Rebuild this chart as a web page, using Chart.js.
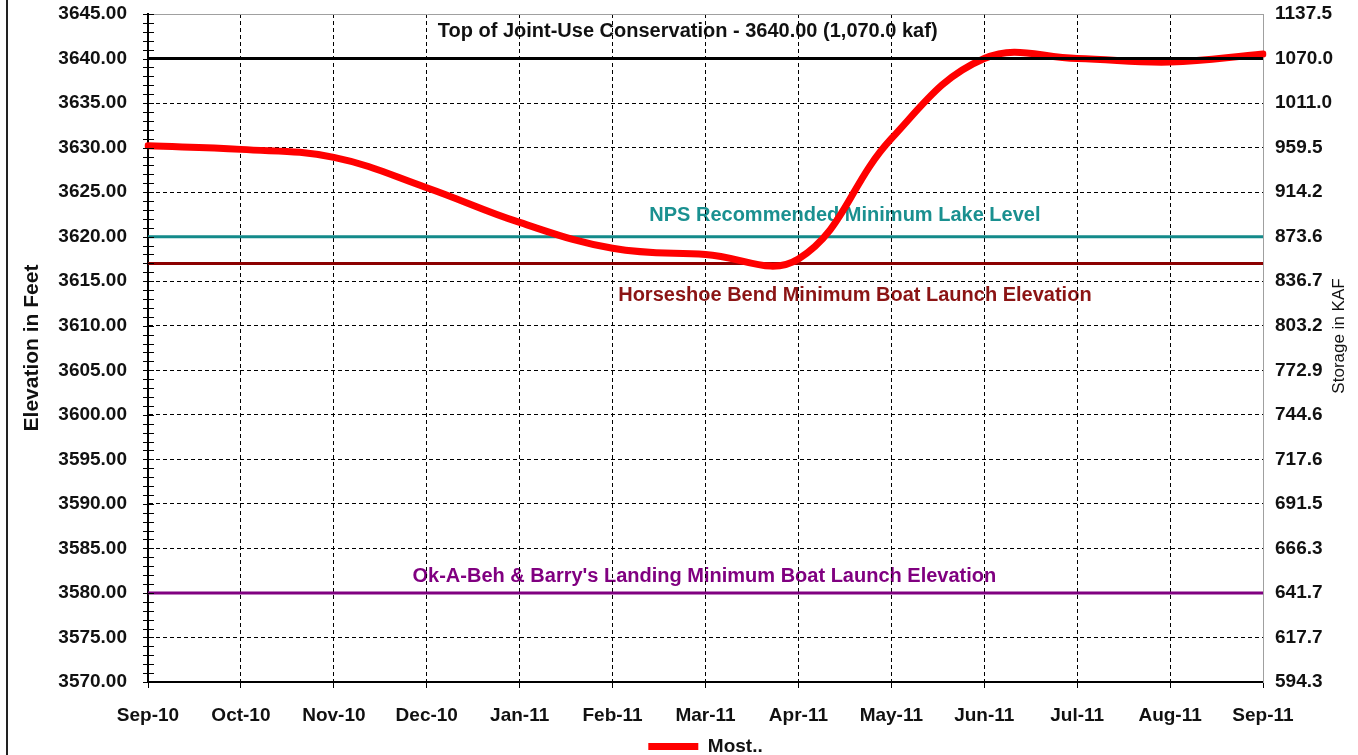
<!DOCTYPE html>
<html>
<head>
<meta charset="utf-8">
<script src="https://cdn.jsdelivr.net/npm/chart.js@4.4.0/dist/chart.umd.min.js"></script>
<style>
  html, body { margin: 0; padding: 0; background: #fff; overflow: hidden; }
  #wrap { position: relative; width: 1358px; height: 755px; background: #fff; }
  #frame { position: absolute; left: 6px; top: 0; width: 2px; height: 755px; background: #222; }
</style>
</head>
<body>
<div id="wrap"><div id="frame"></div><canvas id="elevation"></canvas></div>
<script>
// monthly categories
const months = ['Sep-10', 'Oct-10', 'Nov-10', 'Dec-10', 'Jan-11', 'Feb-11', 'Mar-11',
  'Apr-11', 'May-11', 'Jun-11', 'Jul-11', 'Aug-11', 'Sep-11'];

// most probable end-of-month elevation (ft)
const mostElev = [3630.2, 3629.8, 3628.9, 3625.5, 3621.6, 3618.7, 3618.0,
  3617.5, 3631.0, 3640.0, 3640.0, 3639.6, 3640.5];

// storage (kaf) shown against each 5 ft elevation tick, 3570 .. 3645
const storageTicks = ['594.3', '617.7', '641.7', '666.3', '691.5', '717.6', '744.6', '772.9',
  '803.2', '836.7', '873.6', '914.2', '959.5', '1011.0', '1070.0', '1137.5'];

// reference levels (ft)
const topConservation = 3640;
const npsMinimum = 3620;
const horseshoeMinimum = 3617;
const okAbehMinimum = 3580;

const elevMin = 3570, elevMax = 3645;
const FONT = "'Liberation Sans', Arial, sans-serif";
const flat = v => months.map(() => v);

const refLabels = [
  { text: 'Top of Joint-Use Conservation - 3640.00 (1,070.0 kaf)', level: topConservation, color: '#111', at: 0.484, dy: -27 },
  { text: 'NPS Recommended Minimum Lake Level', level: npsMinimum, color: '#1a9090', at: 0.625, dy: -21 },
  { text: 'Horseshoe Bend Minimum Boat Launch Elevation', level: horseshoeMinimum, color: '#8b1414', at: 0.634, dy: 32 },
  { text: "Ok-A-Beh & Barry's Landing Minimum Boat Launch Elevation", level: okAbehMinimum, color: '#800080', at: 0.499, dy: -16 }
];

// text under the grid, like the original
const refLabelPlugin = {
  id: 'refLabels',
  beforeDraw(chart) {
    const { ctx, chartArea: a, scales: { y } } = chart;
    ctx.save();
    ctx.font = 'bold 20px ' + FONT;
    ctx.textAlign = 'center';
    ctx.textBaseline = 'middle';
    refLabels.forEach(l => {
      ctx.fillStyle = l.color;
      ctx.fillText(l.text, a.left + a.width * l.at, y.getPixelForValue(l.level) + l.dy);
    });
    ctx.restore();
  }
};

// minor ticks crossing the left axis + right axis title (reads bottom to top)
const axisExtras = {
  id: 'axisExtras',
  afterDraw(chart) {
    const { ctx, chartArea: a, scales: { y } } = chart;
    ctx.save();
    ctx.strokeStyle = '#000';
    ctx.lineWidth = 1;
    ctx.beginPath();
    for (let v = elevMin; v <= elevMax; v++) {
      const py = Math.round(y.getPixelForValue(v)) + 0.5;
      ctx.moveTo(a.left - 5, py);
      ctx.lineTo(a.left + 6, py);
    }
    ctx.stroke();

    ctx.translate(1339, (a.top + a.bottom) / 2 - 12);
    ctx.rotate(-Math.PI / 2);
    ctx.font = '17px ' + FONT;
    ctx.fillStyle = '#111';
    ctx.textAlign = 'center';
    ctx.textBaseline = 'middle';
    ctx.fillText('Storage in KAF', 0, 0);
    ctx.restore();
  }
};

const lineSet = (label, data, color, width) => ({
  label, data, borderColor: color, backgroundColor: color, borderWidth: width,
  pointRadius: 0, tension: 0, yAxisID: 'y'
});

const noSidePad = s => { s.paddingTop = 0; s.paddingBottom = 0; };

new Chart('elevation', {
  type: 'line',
  data: {
    labels: months,
    datasets: [
      lineSet('Top of Joint-Use Conservation', flat(topConservation), '#000', 3),
      {
        label: 'Most..', data: mostElev, borderColor: '#ff0000', backgroundColor: '#ff0000',
        borderWidth: 7, pointRadius: 0, tension: 0.4, borderCapStyle: 'round', yAxisID: 'y'
      },
      lineSet('NPS Recommended Minimum', flat(npsMinimum), '#138a8a', 3),
      lineSet('Horseshoe Bend Minimum', flat(horseshoeMinimum), '#8b0000', 3),
      lineSet('Ok-A-Beh Minimum', flat(okAbehMinimum), '#800080', 3)
    ]
  },
  options: {
    responsive: true,
    maintainAspectRatio: false,
    animation: false,
    layout: { padding: { left: 20, top: 14, right: 0, bottom: -11 } },
    scales: {
      x: {
        ticks: { color: '#111', font: { family: FONT, size: 19, weight: 'bold' }, padding: 16, maxRotation: 0, autoSkip: false },
        grid: {
          color: c => c.index === months.length - 1 ? '#a0a0a0' : '#000',
          lineWidth: 1, tickLength: 6, tickColor: '#000', tickBorderDash: [], offset: false
        },
        border: { color: '#000', width: 2, dash: c => (c.index === months.length - 1 ? [] : [4, 3]) },
        afterFit: s => { s.height = 55; s.paddingLeft = 0; s.paddingRight = 0; }
      },
      y: {
        position: 'left', min: elevMin, max: elevMax,
        ticks: { stepSize: 5, padding: 21, color: '#111', font: { family: FONT, size: 19, weight: 'bold' }, callback: v => v.toFixed(2) },
        grid: { drawTicks: false, lineWidth: 1, color: c => (c.tick && c.tick.value === elevMax) ? '#a0a0a0' : '#000' },
        border: { color: '#000', width: 2, dash: c => (c.tick && c.tick.value === elevMax) ? [] : [4, 3] },
        title: { display: true, text: 'Elevation in Feet', color: '#111', font: { family: FONT, size: 21, weight: 'bold' }, padding: { top: 0, bottom: 0 } },
        afterFit: s => { s.width = 128; noSidePad(s); }
      },
      y1: {
        position: 'right', min: elevMin, max: elevMax,
        ticks: { stepSize: 5, padding: 12, color: '#111', font: { family: FONT, size: 19, weight: 'bold' },
          callback: v => storageTicks[Math.round((v - elevMin) / 5)] },
        grid: { drawOnChartArea: false, drawTicks: false },
        border: { color: '#a0a0a0', width: 1 },
        afterFit: s => { s.width = 95; noSidePad(s); }
      }
    },
    plugins: {
      title: { display: false },
      tooltip: { enabled: false },
      legend: {
        position: 'bottom',
        fullSize: false,
        labels: {
          filter: item => item.text === 'Most..',
          usePointStyle: true, pointStyle: 'line', pointStyleWidth: 50,
          color: '#111', font: { family: FONT, size: 19, weight: 'bold' }, padding: 0
        }
      }
    }
  },
  plugins: [refLabelPlugin, axisExtras]
});
</script>
</body>
</html>
